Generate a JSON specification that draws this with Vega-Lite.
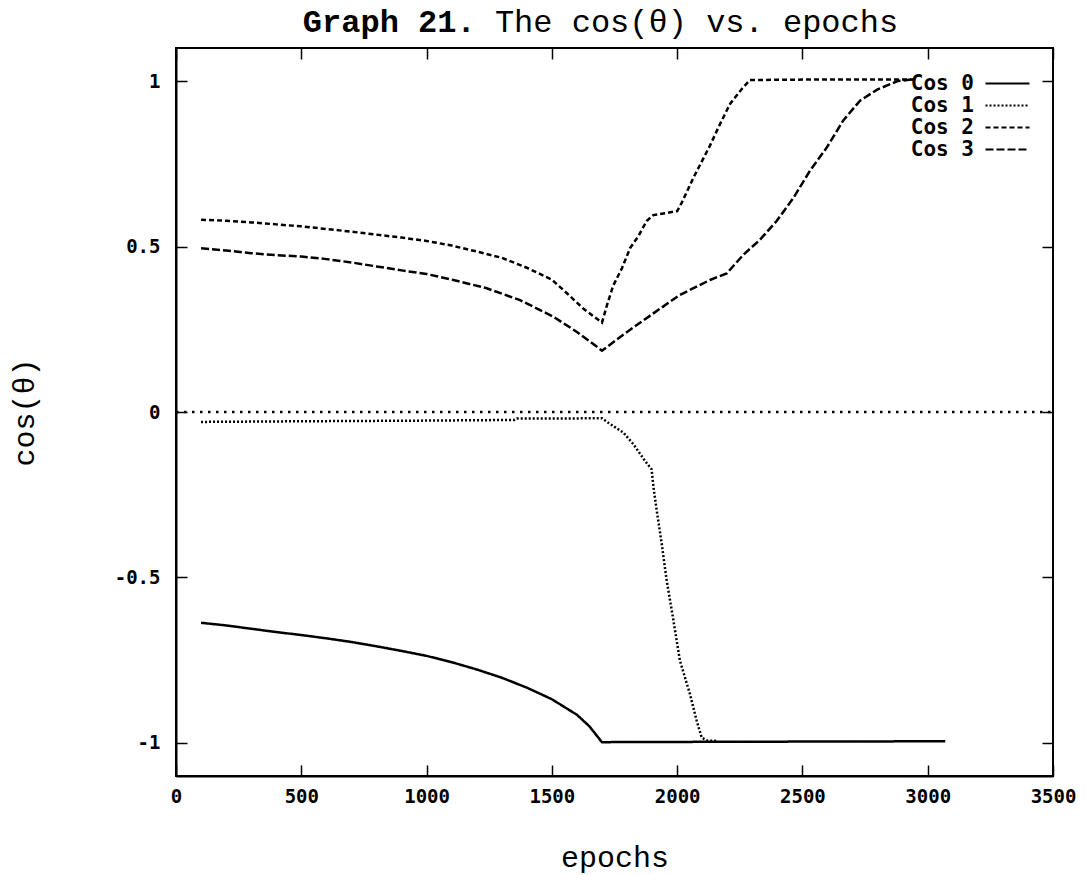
{
  "$schema": "https://vega.github.io/schema/vega-lite/v6.json",
  "width": 877,
  "height": 728,
  "autosize": "none",
  "padding": {"left": 176, "top": 48, "right": 33, "bottom": 99},
  "background": "white",
  "title": {
    "text": "Graph 21.\u00a0\u00a0\u00a0\u00a0\u00a0\u00a0\u00a0\u00a0\u00a0\u00a0\u00a0\u00a0\u00a0\u00a0\u00a0\u00a0\u00a0\u00a0\u00a0\u00a0\u00a0\u00a0\u200b",
    "subtitle": "\u200b\u00a0\u00a0\u00a0\u00a0\u00a0\u00a0\u00a0\u00a0\u00a0\u00a0The cos(θ) vs. epochs",
    "font": "Liberation Mono",
    "fontSize": 32,
    "fontWeight": "bold",
    "color": "black",
    "subtitleFont": "Liberation Mono",
    "subtitleFontSize": 32,
    "subtitleFontWeight": "normal",
    "subtitleColor": "black",
    "subtitlePadding": -32,
    "offset": 8,
    "dx": -14
  },
  "config": {
    "view": {"stroke": "black", "strokeWidth": 2},
    "axis": {
      "grid": false,
      "domainColor": "black",
      "domainWidth": 2,
      "tickColor": "black",
      "tickWidth": 1.5,
      "tickSize": -11,
      "labelColor": "black",
      "labelFont": "DejaVu Sans Mono",
      "labelFontSize": 19,
      "labelFontWeight": "bold",
      "titleColor": "black",
      "titleFont": "Liberation Mono",
      "titleFontSize": 30,
      "titleFontWeight": "normal",
      "labelFlush": false
    }
  },
  "layer": [
    {
      "data": {
        "values": [
          {"series": "Cos 0", "epoch": 100, "cos": -0.637},
          {"series": "Cos 0", "epoch": 200, "cos": -0.645},
          {"series": "Cos 0", "epoch": 300, "cos": -0.655},
          {"series": "Cos 0", "epoch": 400, "cos": -0.665},
          {"series": "Cos 0", "epoch": 500, "cos": -0.674},
          {"series": "Cos 0", "epoch": 600, "cos": -0.684},
          {"series": "Cos 0", "epoch": 700, "cos": -0.695},
          {"series": "Cos 0", "epoch": 800, "cos": -0.708},
          {"series": "Cos 0", "epoch": 900, "cos": -0.722},
          {"series": "Cos 0", "epoch": 1000, "cos": -0.737},
          {"series": "Cos 0", "epoch": 1100, "cos": -0.756},
          {"series": "Cos 0", "epoch": 1200, "cos": -0.778},
          {"series": "Cos 0", "epoch": 1300, "cos": -0.803},
          {"series": "Cos 0", "epoch": 1400, "cos": -0.833},
          {"series": "Cos 0", "epoch": 1500, "cos": -0.868},
          {"series": "Cos 0", "epoch": 1600, "cos": -0.915},
          {"series": "Cos 0", "epoch": 1650, "cos": -0.95},
          {"series": "Cos 0", "epoch": 1700, "cos": -0.998},
          {"series": "Cos 0", "epoch": 1800, "cos": -0.997},
          {"series": "Cos 0", "epoch": 2000, "cos": -0.997},
          {"series": "Cos 0", "epoch": 2500, "cos": -0.996},
          {"series": "Cos 0", "epoch": 3070, "cos": -0.995},

          {"series": "Cos 1", "epoch": 100, "cos": -0.03},
          {"series": "Cos 1", "epoch": 500, "cos": -0.028},
          {"series": "Cos 1", "epoch": 1000, "cos": -0.026},
          {"series": "Cos 1", "epoch": 1350, "cos": -0.024},
          {"series": "Cos 1", "epoch": 1360, "cos": -0.02},
          {"series": "Cos 1", "epoch": 1700, "cos": -0.019},
          {"series": "Cos 1", "epoch": 1732, "cos": -0.036},
          {"series": "Cos 1", "epoch": 1785, "cos": -0.062},
          {"series": "Cos 1", "epoch": 1825, "cos": -0.097},
          {"series": "Cos 1", "epoch": 1872, "cos": -0.148},
          {"series": "Cos 1", "epoch": 1898, "cos": -0.173},
          {"series": "Cos 1", "epoch": 1905, "cos": -0.224},
          {"series": "Cos 1", "epoch": 1918, "cos": -0.295},
          {"series": "Cos 1", "epoch": 1938, "cos": -0.396},
          {"series": "Cos 1", "epoch": 1958, "cos": -0.508},
          {"series": "Cos 1", "epoch": 1985, "cos": -0.629},
          {"series": "Cos 1", "epoch": 2011, "cos": -0.751},
          {"series": "Cos 1", "epoch": 2051, "cos": -0.852},
          {"series": "Cos 1", "epoch": 2078, "cos": -0.933},
          {"series": "Cos 1", "epoch": 2098, "cos": -0.984},
          {"series": "Cos 1", "epoch": 2120, "cos": -0.993},
          {"series": "Cos 1", "epoch": 2160, "cos": -0.994},

          {"series": "Cos 2", "epoch": 100, "cos": 0.581},
          {"series": "Cos 2", "epoch": 200, "cos": 0.578},
          {"series": "Cos 2", "epoch": 300, "cos": 0.573},
          {"series": "Cos 2", "epoch": 400, "cos": 0.567},
          {"series": "Cos 2", "epoch": 500, "cos": 0.561},
          {"series": "Cos 2", "epoch": 600, "cos": 0.553},
          {"series": "Cos 2", "epoch": 700, "cos": 0.545},
          {"series": "Cos 2", "epoch": 800, "cos": 0.536},
          {"series": "Cos 2", "epoch": 900, "cos": 0.527},
          {"series": "Cos 2", "epoch": 1000, "cos": 0.517},
          {"series": "Cos 2", "epoch": 1100, "cos": 0.503},
          {"series": "Cos 2", "epoch": 1200, "cos": 0.485},
          {"series": "Cos 2", "epoch": 1300, "cos": 0.466},
          {"series": "Cos 2", "epoch": 1400, "cos": 0.436},
          {"series": "Cos 2", "epoch": 1500, "cos": 0.4},
          {"series": "Cos 2", "epoch": 1560, "cos": 0.359},
          {"series": "Cos 2", "epoch": 1625, "cos": 0.313},
          {"series": "Cos 2", "epoch": 1700, "cos": 0.27},
          {"series": "Cos 2", "epoch": 1720, "cos": 0.323},
          {"series": "Cos 2", "epoch": 1745, "cos": 0.382},
          {"series": "Cos 2", "epoch": 1780, "cos": 0.435},
          {"series": "Cos 2", "epoch": 1812, "cos": 0.495},
          {"series": "Cos 2", "epoch": 1845, "cos": 0.531},
          {"series": "Cos 2", "epoch": 1878, "cos": 0.577},
          {"series": "Cos 2", "epoch": 1905, "cos": 0.595},
          {"series": "Cos 2", "epoch": 2000, "cos": 0.607},
          {"series": "Cos 2", "epoch": 2018, "cos": 0.632},
          {"series": "Cos 2", "epoch": 2065, "cos": 0.708},
          {"series": "Cos 2", "epoch": 2131, "cos": 0.805},
          {"series": "Cos 2", "epoch": 2171, "cos": 0.87},
          {"series": "Cos 2", "epoch": 2211, "cos": 0.931},
          {"series": "Cos 2", "epoch": 2258, "cos": 0.976},
          {"series": "Cos 2", "epoch": 2290, "cos": 1.003},
          {"series": "Cos 2", "epoch": 2400, "cos": 1.004},
          {"series": "Cos 2", "epoch": 2600, "cos": 1.005},
          {"series": "Cos 2", "epoch": 2800, "cos": 1.005},
          {"series": "Cos 2", "epoch": 2950, "cos": 1.005},

          {"series": "Cos 3", "epoch": 100, "cos": 0.495},
          {"series": "Cos 3", "epoch": 200, "cos": 0.488},
          {"series": "Cos 3", "epoch": 300, "cos": 0.48},
          {"series": "Cos 3", "epoch": 400, "cos": 0.474},
          {"series": "Cos 3", "epoch": 500, "cos": 0.47},
          {"series": "Cos 3", "epoch": 600, "cos": 0.462},
          {"series": "Cos 3", "epoch": 700, "cos": 0.452},
          {"series": "Cos 3", "epoch": 800, "cos": 0.44},
          {"series": "Cos 3", "epoch": 900, "cos": 0.428},
          {"series": "Cos 3", "epoch": 1000, "cos": 0.417},
          {"series": "Cos 3", "epoch": 1107, "cos": 0.399},
          {"series": "Cos 3", "epoch": 1240, "cos": 0.374},
          {"series": "Cos 3", "epoch": 1373, "cos": 0.338},
          {"series": "Cos 3", "epoch": 1506, "cos": 0.288},
          {"series": "Cos 3", "epoch": 1600, "cos": 0.242},
          {"series": "Cos 3", "epoch": 1680, "cos": 0.197},
          {"series": "Cos 3", "epoch": 1700, "cos": 0.185},
          {"series": "Cos 3", "epoch": 1800, "cos": 0.242},
          {"series": "Cos 3", "epoch": 1905, "cos": 0.298},
          {"series": "Cos 3", "epoch": 2011, "cos": 0.354},
          {"series": "Cos 3", "epoch": 2065, "cos": 0.374},
          {"series": "Cos 3", "epoch": 2131, "cos": 0.399},
          {"series": "Cos 3", "epoch": 2198, "cos": 0.419},
          {"series": "Cos 3", "epoch": 2264, "cos": 0.475},
          {"series": "Cos 3", "epoch": 2331, "cos": 0.521},
          {"series": "Cos 3", "epoch": 2397, "cos": 0.577},
          {"series": "Cos 3", "epoch": 2464, "cos": 0.647},
          {"series": "Cos 3", "epoch": 2530, "cos": 0.729},
          {"series": "Cos 3", "epoch": 2597, "cos": 0.799},
          {"series": "Cos 3", "epoch": 2663, "cos": 0.881},
          {"series": "Cos 3", "epoch": 2730, "cos": 0.941},
          {"series": "Cos 3", "epoch": 2800, "cos": 0.975},
          {"series": "Cos 3", "epoch": 2880, "cos": 1.0},
          {"series": "Cos 3", "epoch": 2950, "cos": 1.006}
        ]
      },
      "mark": {"type": "line", "strokeWidth": 2.5, "color": "black"},
      "encoding": {
        "x": {
          "field": "epoch",
          "type": "quantitative",
          "scale": {"domain": [0, 3500], "nice": false, "zero": false},
          "axis": {
            "orient": "bottom",
            "values": [0, 500, 1000, 1500, 2000, 2500, 3000, 3500],
            "labelExpr": "'' + datum.value",
            "labelPadding": 22,
            "title": "epochs",
            "titlePadding": 36
          }
        },
        "y": {
          "field": "cos",
          "type": "quantitative",
          "scale": {"domain": [-1.1, 1.1], "nice": false, "zero": false},
          "axis": {
            "orient": "left",
            "values": [-1, -0.5, 0, 0.5, 1],
            "labelExpr": "'' + datum.value",
            "labelPadding": 27,
            "title": "cos(θ)",
            "titlePadding": 75
          }
        },
        "strokeDash": {
          "field": "series",
          "type": "nominal",
          "scale": {
            "domain": ["Cos 0", "Cos 1", "Cos 2", "Cos 3"],
            "range": [[1, 0], [2, 2], [5, 3], [8, 3]]
          },
          "legend": {
            "orient": "none",
            "legendX": 821,
            "legendY": 25,
            "title": null,
            "symbolType": "M-4,0H4",
            "symbolSize": 121,
            "symbolStrokeWidth": 2,
            "symbolStrokeColor": "black",
            "labelFont": "DejaVu Sans Mono",
            "labelFontSize": 21,
            "labelFontWeight": "bold",
            "labelColor": "black",
            "labelAlign": "right",
            "labelOffset": -44,
            "rowPadding": 0
          }
        }
      }
    },
    {
      "data": {"values": [{}]},
      "mark": {"type": "rule", "strokeDash": [2.5, 5.5], "strokeWidth": 2.5, "color": "black"},
      "encoding": {
        "x": {
          "datum": 0,
          "type": "quantitative",
          "axis": {"orient": "top", "values": [0, 500, 1000, 1500, 2000, 2500, 3000, 3500], "labels": false, "domain": false, "title": null}
        },
        "x2": {"datum": 3500},
        "y": {
          "datum": 0,
          "type": "quantitative",
          "axis": {"orient": "right", "values": [-1, -0.5, 0, 0.5, 1], "labels": false, "domain": false, "title": null}
        }
      }
    }
  ],
  "resolve": {"axis": {"x": "independent", "y": "independent"}}
}
